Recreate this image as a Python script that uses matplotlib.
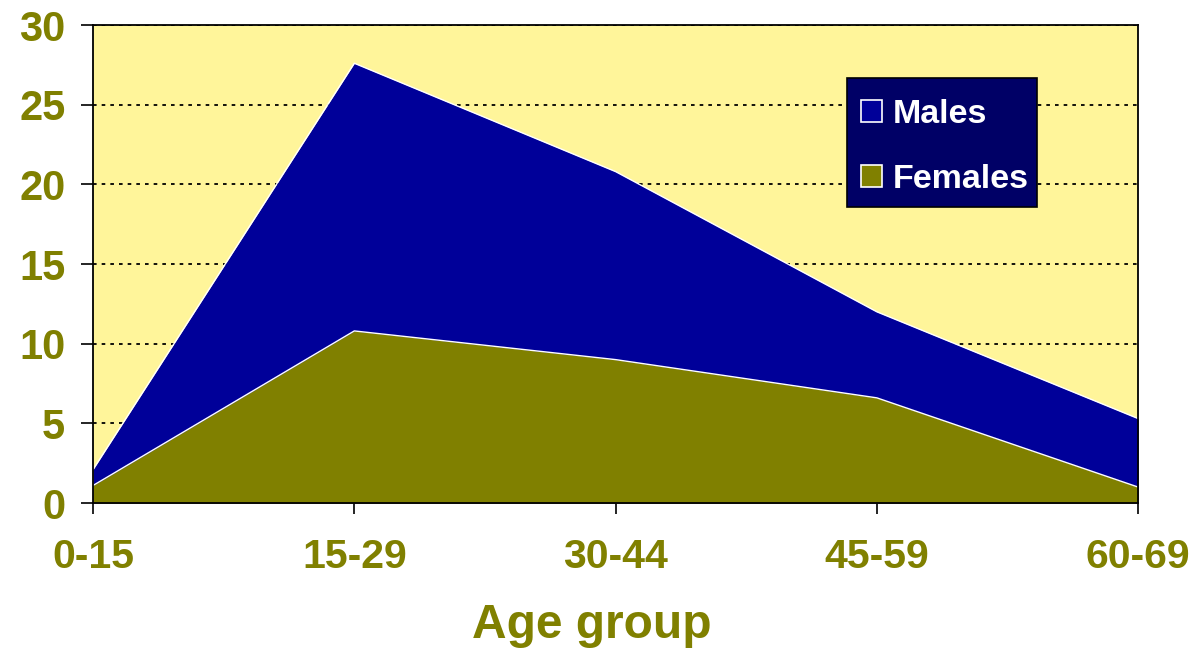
import numpy as np
import matplotlib.pyplot as plt
from matplotlib.patches import Rectangle

# --- data ---
age_groups = ['0-15', '15-29', '30-44', '45-59', '60-69']
females = [1.1, 10.8, 9.0, 6.6, 1.0]
males = [1.0, 16.8, 11.8, 5.4, 4.3]   # stacked on top of females

OLIVE = '#808000'
NAVY = '#000099'
YELLOW = '#FFF59A'

plt.rcParams['font.family'] = ['Liberation Sans', 'DejaVu Sans']

fig = plt.figure(figsize=(11.93, 6.53), dpi=100)
ax = fig.add_axes([0.078, 0.2297, 0.876, 0.732])
ax.set_facecolor(YELLOW)

x = np.arange(len(age_groups))
fem = np.array(females)
total = fem + np.array(males)

ax.fill_between(x, 0, total, color=NAVY, lw=0, zorder=2, label='Males')
ax.fill_between(x, 0, fem, color=OLIVE, lw=0, zorder=3, label='Females')
ax.plot(x, total, color='white', lw=1.0, zorder=4)
ax.plot(x, fem, color='white', lw=1.0, zorder=4)

ax.set_xlim(0, len(age_groups) - 1)
ax.set_ylim(0, 30)
ax.set_yticks(range(0, 31, 5))
ax.set_xticks(x)
ax.set_xticklabels(age_groups)

ax.yaxis.grid(True, color='black', linestyle=(0, (2, 2.8)), lw=1.3, zorder=1)
ax.set_axisbelow(True)

for s in ax.spines.values():
    s.set_color('black')
    s.set_linewidth(1.3)
    s.set_zorder(5)

ax.tick_params(axis='y', direction='out', length=9, width=1.2, pad=11,
               labelsize=30, labelcolor=OLIVE)
ax.tick_params(axis='x', direction='out', length=8, width=1.2, pad=17,
               labelsize=29.5, labelcolor=OLIVE)
for lab in ax.get_xticklabels() + ax.get_yticklabels():
    lab.set_fontweight('bold')

# axis title is centred on the figure rather than on the axes
fig.text(0.496, 0.023, 'Age group', fontsize=34.5, fontweight='bold',
         color=OLIVE, ha='center', va='baseline')

# legend box drawn separately so it can be taller than matplotlib's frame
box = Rectangle((0.7215, 0.619), 0.1818, 0.27, transform=ax.transAxes,
                facecolor='#000066', edgecolor='black', lw=1.2, zorder=6)
ax.add_patch(box)
leg = ax.legend(loc='center left', bbox_to_anchor=(0.7215, 0.745), frameon=False,
                prop={'size': 24.5, 'weight': 'bold'},
                handlelength=0.63, handleheight=0.63, handletextpad=0.32,
                labelspacing=1.0, borderpad=0.4, borderaxespad=0)
for t in leg.get_texts():
    t.set_color('white')
for h in leg.legend_handles:
    h.set_edgecolor('white')
    h.set_linewidth(1.2)
leg.set_zorder(7)

fig.savefig('out.png', dpi=100)
